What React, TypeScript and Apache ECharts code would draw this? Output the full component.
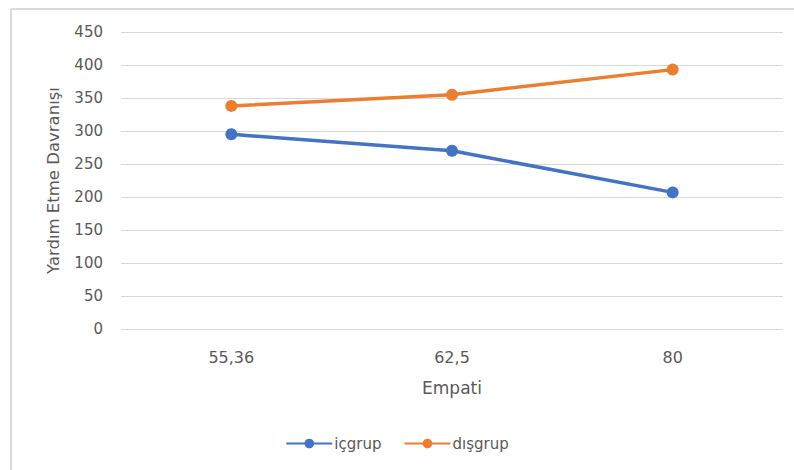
import React, { useEffect, useRef } from "react";
import * as echarts from "echarts";

const categories = ["55,36", "62,5", "80"];
const icGrup = [295, 270, 207];
const disGrup = [338, 355, 393];
const seriesNames = ["içgrup", "dışgrup"];
const yAxisName = "Yardım Etme Davranışı";
const xAxisName = "Empati";

const FONT = "'DejaVu Sans', sans-serif";
const TEXT = "#595959";

export default function App() {
  const ref = useRef<HTMLDivElement>(null);
  useEffect(() => {
    if (!ref.current) return;
    const chart = echarts.init(ref.current, undefined, { renderer: "svg" });
    chart.setOption({
      animation: false,
      backgroundColor: "#ffffff",
      textStyle: { fontFamily: FONT, color: TEXT },
      graphic: [
        { type: "line", shape: { x1: 11, y1: 9, x2: 794, y2: 9 }, style: { stroke: "#d9d9d9", lineWidth: 2 } },
        { type: "line", shape: { x1: 11, y1: 9, x2: 11, y2: 470 }, style: { stroke: "#d9d9d9", lineWidth: 2 } },
      ],
      grid: { left: 121, right: 11, top: 32, bottom: 141 },
      legend: {
        bottom: 14,
        left: "center",
        itemWidth: 46,
        itemHeight: 12,
        itemGap: 22,
        textStyle: { fontFamily: FONT, fontSize: 15, color: TEXT, padding: [0, 0, 0, -3] },
        data: seriesNames,
      },
      xAxis: {
        type: "category",
        data: categories,
        boundaryGap: true,
        axisLine: { show: false },
        axisTick: { show: false },
        axisLabel: { fontFamily: FONT, fontSize: 16, color: TEXT, margin: 20 },
        name: xAxisName,
        nameLocation: "middle",
        nameGap: 50,
        nameTextStyle: { fontFamily: FONT, fontSize: 17, color: TEXT },
      },
      yAxis: {
        type: "value",
        min: 0,
        max: 450,
        interval: 50,
        axisLine: { show: false },
        axisTick: { show: false },
        axisLabel: { fontFamily: FONT, fontSize: 15, color: TEXT, margin: 18 },
        splitLine: { lineStyle: { color: "#d9d9d9", width: 1 } },
        name: yAxisName,
        nameLocation: "middle",
        nameGap: 59,
        nameTextStyle: { fontFamily: FONT, fontSize: 16.5, color: TEXT },
      },
      series: [
        {
          name: seriesNames[0],
          type: "line",
          data: icGrup,
          symbol: "circle",
          symbolSize: 12,
          lineStyle: { width: 3.5, color: "#4472C4" },
          itemStyle: { color: "#4472C4" },
        },
        {
          name: seriesNames[1],
          type: "line",
          data: disGrup,
          symbol: "circle",
          symbolSize: 12,
          lineStyle: { width: 3.5, color: "#ED7D31" },
          itemStyle: { color: "#ED7D31" },
        },
      ],
    });
    return () => chart.dispose();
  }, []);
  return (
    <div
      ref={ref}
      style={{ position: "absolute", left: 0, top: 0, width: 794, height: 470 }}
    />
  );
}
